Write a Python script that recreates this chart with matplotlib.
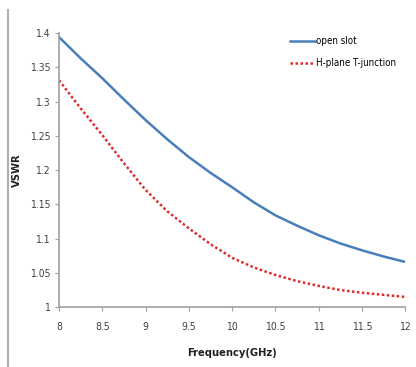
import matplotlib
matplotlib.use('Agg')
import matplotlib.pyplot as plt
from matplotlib.lines import Line2D

freq = [8, 8.25, 8.5, 8.75, 9, 9.25, 9.5, 9.75, 10, 10.25, 10.5, 10.75, 11, 11.25, 11.5, 11.75, 12]
open_slot = [1.394, 1.363, 1.334, 1.303, 1.273, 1.245, 1.219, 1.196, 1.175, 1.153, 1.134,
             1.119, 1.105, 1.093, 1.083, 1.074, 1.066]
t_junction = [1.331, 1.290, 1.251, 1.210, 1.171, 1.140, 1.115, 1.092, 1.072, 1.058, 1.047,
              1.038, 1.031, 1.025, 1.021, 1.018, 1.015]
xticks = [8, 8.5, 9, 9.5, 10, 10.5, 11, 11.5, 12]
yticks = [1, 1.05, 1.1, 1.15, 1.2, 1.25, 1.3, 1.35, 1.4]

plt.rcParams['font.family'] = ['DejaVu Sans']
plt.rcParams['font.stretch'] = 'condensed'

fig = plt.figure(figsize=(4.16, 3.67), dpi=100)
ax = fig.add_axes([0.142, 0.163, 0.832, 0.747])

ax.plot(freq, open_slot, color='#4a7ebb', lw=1.8, label='open slot')
ax.plot(freq, t_junction, color='#e02a2a', lw=1.8, linestyle=(0, (1, 1)), label='H-plane T-junction')

ax.set_xlim(8, 12)
ax.set_ylim(1, 1.4)
ax.set_xticks(xticks)
ax.set_xticklabels(['8', '8.5', '9', '9.5', '10', '10.5', '11', '11.5', '12'])
ax.set_yticks(yticks)
ax.set_yticklabels(['1', '1.05', '1.1', '1.15', '1.2', '1.25', '1.3', '1.35', '1.4'])
for s in ['top', 'right']:
    ax.spines[s].set_visible(False)
for s in ['left', 'bottom']:
    ax.spines[s].set_color('#a0a0a0')
    ax.spines[s].set_linewidth(1.2)
ax.tick_params(colors='#a0a0a0', labelcolor='#404040', labelsize=7.5, length=3, direction='out')
ax.tick_params(axis='x', pad=8)

ax.set_xlabel('Frequency(GHz)', fontsize=8, fontweight='bold', color='#202020')
ax.set_ylabel('VSWR', fontsize=8, fontweight='bold', color='#202020')
ax.xaxis.set_label_coords(0.5, -0.15)
ax.yaxis.set_label_coords(-0.107, 0.5)

ax.legend(loc='upper right', bbox_to_anchor=(1.0, 1.02), frameon=False, fontsize=7,
          handlelength=2.6, handletextpad=0.1, labelspacing=1.2)

fig.add_artist(Line2D([0.02, 0.02], [0.0, 0.973], color='#b0b0b0', lw=1.5, transform=fig.transFigure))

plt.savefig('out.png', dpi=100)
